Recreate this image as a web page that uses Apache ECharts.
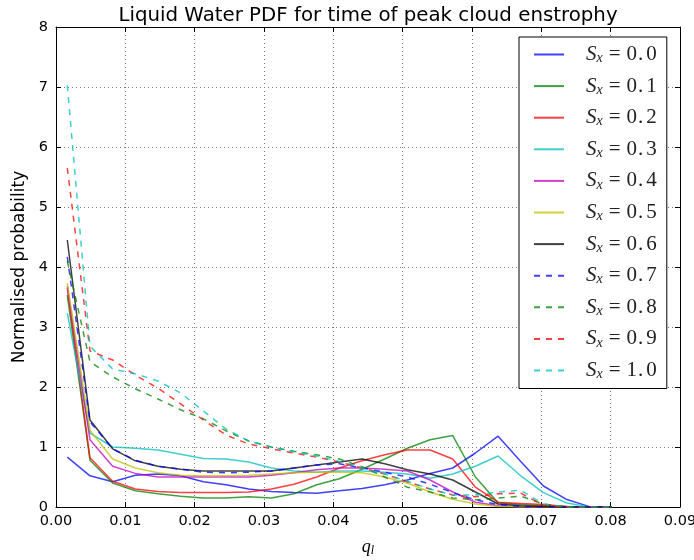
<!DOCTYPE html>
<html>
<head>
<meta charset="utf-8">
<script src="https://cdn.jsdelivr.net/npm/echarts@6/dist/echarts.min.js"></script>
<style>html,body{margin:0;padding:0;background:#fff;}#c{width:694px;height:560px;}</style>
</head>
<body>
<div id="c"></div>
<script>
var qValues = [0.00163, 0.0049, 0.00817, 0.01144, 0.01471, 0.01798, 0.02125, 0.02452, 0.02779, 0.03106, 0.03433, 0.0376, 0.04087, 0.04414, 0.04741, 0.05068, 0.05395, 0.05722, 0.06049, 0.06376, 0.06703, 0.0703, 0.07357, 0.07684, 0.08011];
var seriesNames = ['0.0', '0.1', '0.2', '0.3', '0.4', '0.5', '0.6', '0.7', '0.8', '0.9', '1.0'];
var s00 = [0.83, 0.52, 0.42, 0.53, 0.55, 0.52, 0.42, 0.37, 0.3, 0.26, 0.24, 0.23, 0.27, 0.31, 0.37, 0.45, 0.56, 0.65, 0.9, 1.18, 0.76, 0.35, 0.13, 0.01, 0.0];
var s01 = [3.53, 0.78, 0.4, 0.27, 0.22, 0.18, 0.15, 0.15, 0.17, 0.15, 0.22, 0.37, 0.47, 0.63, 0.8, 0.98, 1.12, 1.19, 0.5, 0.07, 0.04, 0.02, 0.01, 0.0, 0.0];
var s02 = [3.65, 0.82, 0.43, 0.3, 0.26, 0.24, 0.24, 0.24, 0.25, 0.3, 0.38, 0.5, 0.65, 0.77, 0.87, 0.95, 0.95, 0.8, 0.33, 0.08, 0.06, 0.04, 0.01, 0.0, 0.0];
var s03 = [3.23, 1.23, 1.0, 0.98, 0.95, 0.88, 0.81, 0.8, 0.75, 0.65, 0.6, 0.58, 0.6, 0.6, 0.58, 0.55, 0.48, 0.55, 0.68, 0.85, 0.52, 0.24, 0.07, 0.0, 0.0];
var s04 = [3.68, 1.12, 0.68, 0.56, 0.5, 0.5, 0.5, 0.5, 0.5, 0.53, 0.57, 0.62, 0.65, 0.65, 0.63, 0.6, 0.45, 0.25, 0.08, 0.02, 0.0, 0.0, 0.0, 0.0, 0.0];
var s05 = [3.73, 1.28, 0.8, 0.65, 0.57, 0.53, 0.52, 0.52, 0.53, 0.55, 0.57, 0.58, 0.58, 0.57, 0.5, 0.4, 0.25, 0.13, 0.05, 0.01, 0.0, 0.0, 0.0, 0.0, 0.0];
var s06 = [4.45, 1.45, 0.97, 0.77, 0.68, 0.63, 0.6, 0.6, 0.6, 0.6, 0.65, 0.7, 0.75, 0.8, 0.72, 0.62, 0.55, 0.45, 0.25, 0.05, 0.02, 0.01, 0.0, 0.0, 0.0];
var s07 = [4.17, 1.42, 0.97, 0.78, 0.68, 0.63, 0.58, 0.57, 0.58, 0.6, 0.65, 0.7, 0.72, 0.65, 0.58, 0.5, 0.38, 0.24, 0.12, 0.04, 0.01, 0.0, 0.0, 0.0, 0.0];
var s08 = [4.1, 2.42, 2.17, 1.97, 1.8, 1.62, 1.47, 1.27, 1.1, 1.0, 0.93, 0.87, 0.8, 0.67, 0.5, 0.33, 0.25, 0.15, 0.12, 0.15, 0.18, 0.05, 0.0, 0.0, 0.0];
var s09 = [5.65, 2.6, 2.45, 2.2, 1.98, 1.72, 1.45, 1.2, 1.05, 0.97, 0.9, 0.83, 0.75, 0.65, 0.55, 0.42, 0.3, 0.2, 0.17, 0.22, 0.23, 0.03, 0.0, 0.0, 0.0];
var s10 = [7.03, 2.68, 2.3, 2.22, 2.1, 1.9, 1.6, 1.3, 1.1, 1.0, 0.92, 0.85, 0.76, 0.65, 0.55, 0.43, 0.3, 0.2, 0.2, 0.25, 0.28, 0.05, 0.0, 0.0, 0.0];
var allValues = [s00, s01, s02, s03, s04, s05, s06, s07, s08, s09, s10];
var xTicks = ['0.00','0.01','0.02','0.03','0.04','0.05','0.06','0.07','0.08','0.09'];

var colors = ['rgba(0,0,255,0.75)','rgba(0,128,0,0.75)','rgba(255,0,0,0.75)','rgba(0,191,191,0.75)','rgba(191,0,191,0.75)','rgba(191,191,0,0.75)','rgba(0,0,0,0.75)','rgba(0,0,255,0.75)','rgba(0,128,0,0.75)','rgba(255,0,0,0.75)','rgba(0,191,191,0.75)'];
var dashed = [false,false,false,false,false,false,false,true,true,true,true];

var series = allValues.map(function(vals, i){
  return {
    name: seriesNames[i],
    type: 'line',
    symbol: 'none',
    silent: true,
    animation: false,
    data: vals.map(function(v, k){ return [qValues[k], v]; }),
    lineStyle: { color: colors[i], width: 1.5, type: dashed[i] ? [6,6] : 'solid' },
    itemStyle: { color: colors[i] }
  };
});

var chart = echarts.init(document.getElementById('c'), null, {renderer: 'canvas'});
var axisCommon = {
  axisLine: { show: true, onZero: false, lineStyle: { color: '#000', width: 1 } },
  axisTick: { show: true, inside: true, length: 5, lineStyle: { color: '#000' } }
};
chart.setOption({
  animation: false,
  backgroundColor: '#fff',
  title: {
    text: 'Liquid Water PDF for time of peak cloud enstrophy',
    left: 363, top: 1, textAlign: 'center',
    textStyle: { fontFamily: 'DejaVu Sans', fontSize: 19.8, fontWeight: 'normal', color: '#000' }
  },
  grid: { left: 56, right: 14, top: 27, bottom: 53, show: false, containLabel: false, outerBoundsMode: 'none' },
  legend: {
    orient: 'vertical',
    left: 519, top: 37,
    padding: [7, 10, 7, 14],
    itemWidth: 30, itemHeight: 14, itemGap: 10.1,
    backgroundColor: '#fff',
    borderColor: '#000', borderWidth: 1,
    data: seriesNames,
    itemStyle: { opacity: 0 },
    formatter: function(n){ return '{s|S}{x|x}{e|=}{v|' + n.charAt(0) + '}{d|.}{v|' + n.charAt(2) + '}'; },
    textStyle: {
      padding: [0, 0, 0, 17],
      lineHeight: 20,
      rich: {
        s: { fontFamily: 'Liberation Serif', fontStyle: 'italic', fontSize: 21, color: '#222' },
        x: { fontFamily: 'Liberation Serif', fontStyle: 'italic', fontSize: 14, color: '#222', padding: [8, 0, 0, 0] },
        e: { fontFamily: 'Liberation Serif', fontSize: 21, color: '#222', padding: [0, 6, 0, 6] },
        v: { fontFamily: 'Liberation Serif', fontSize: 21, color: '#222' },
        d: { fontFamily: 'Liberation Serif', fontSize: 21, color: '#222', padding: [0, 3, 0, 1] }
      }
    }
  },
  xAxis: [
    Object.assign({
      type: 'value', min: 0, max: 0.09, interval: 0.01, position: 'bottom',
      name: '{q|q}{l|l}', nameLocation: 'middle', nameGap: 30,
      nameTextStyle: { rich: {
        q: { fontFamily: 'Liberation Serif', fontStyle: 'italic', fontSize: 18, color: '#000' },
        l: { fontFamily: 'Liberation Serif', fontStyle: 'italic', fontSize: 12, color: '#000', padding: [8, 0, 0, 0] }
      } },
      axisLabel: { color: '#000', fontFamily: 'DejaVu Sans', fontSize: 14.5, margin: 7,
        formatter: function(v){ return xTicks[Math.round(v / 0.01)]; } },
      splitLine: { show: true, lineStyle: { color: '#777', type: [1, 3], width: 1 } }
    }, axisCommon),
    Object.assign({
      type: 'value', min: 0, max: 0.09, interval: 0.01, position: 'top',
      axisLabel: { show: false }, splitLine: { show: false }
    }, axisCommon)
  ],
  yAxis: [
    Object.assign({
      type: 'value', min: 0, max: 8, interval: 1, position: 'left',
      name: 'Normalised probability', nameLocation: 'middle', nameGap: 22,
      nameTextStyle: { fontFamily: 'DejaVu Sans', fontSize: 17, color: '#000' },
      axisLabel: { color: '#000', fontFamily: 'DejaVu Sans', fontSize: 14.5, margin: 8 },
      splitLine: { show: true, lineStyle: { color: '#777', type: [1, 3], width: 1 } }
    }, axisCommon),
    Object.assign({
      type: 'value', min: 0, max: 8, interval: 1, position: 'right',
      axisLabel: { show: false }, splitLine: { show: false }
    }, axisCommon)
  ],
  series: series
});
</script>
</body>
</html>
